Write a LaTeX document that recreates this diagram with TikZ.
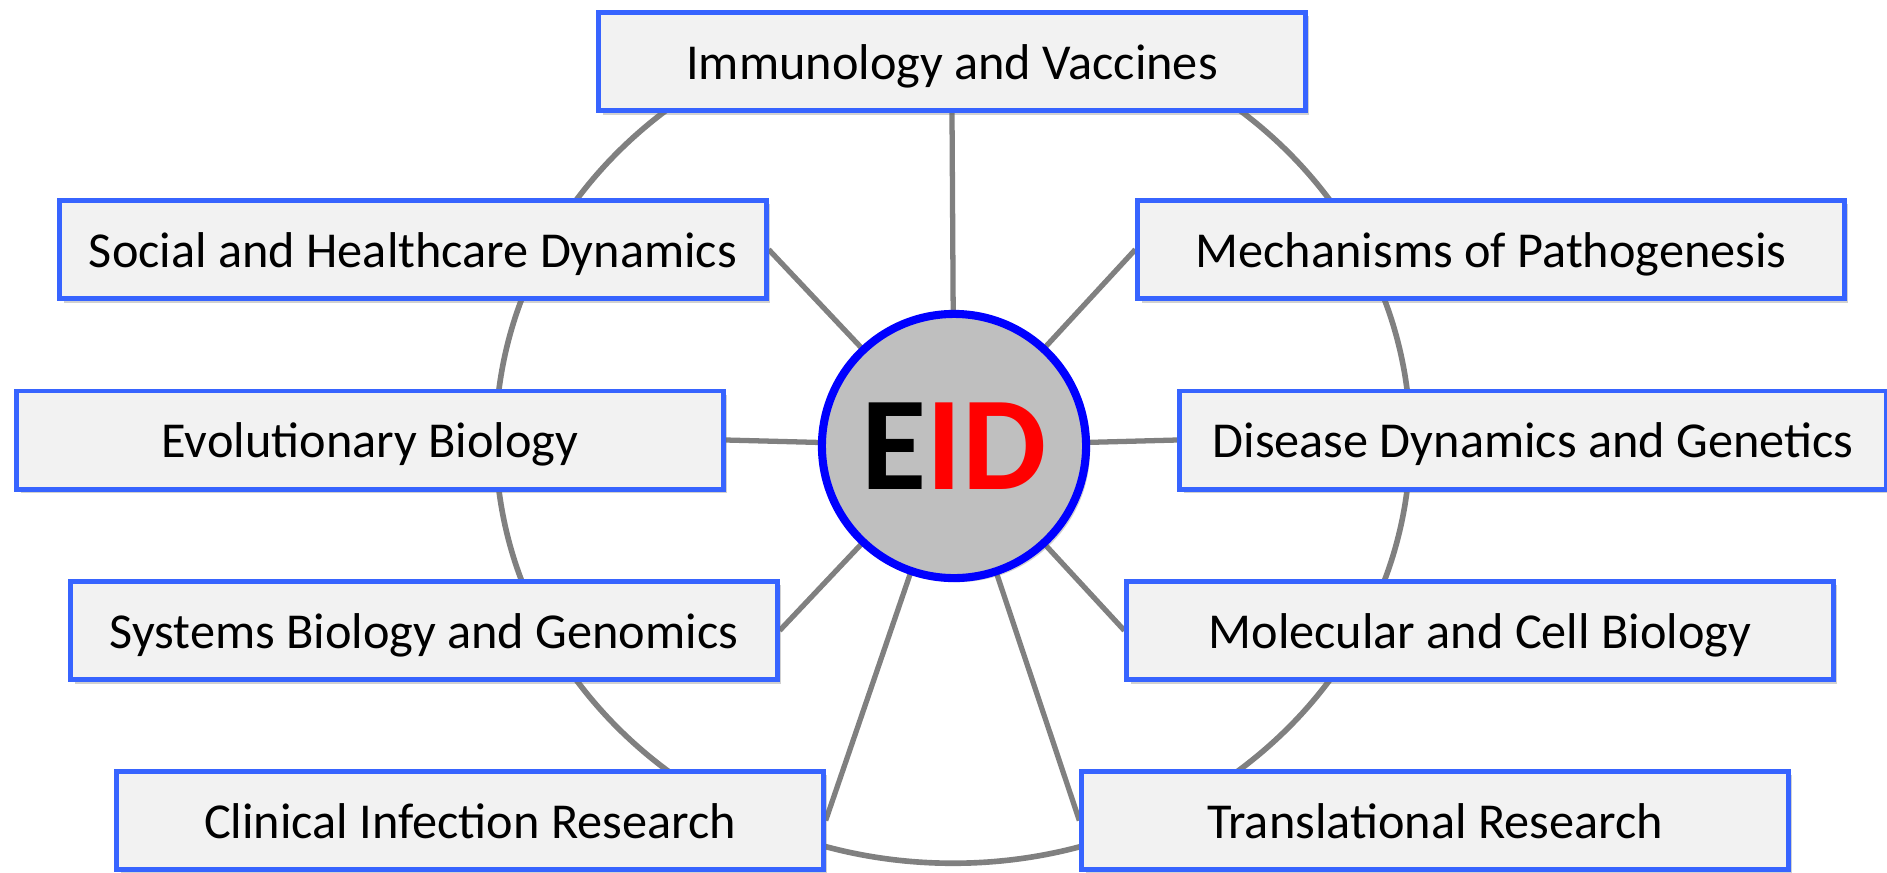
\documentclass[tikz,border=0pt]{standalone}
\usepackage{fontspec}
\setmainfont{Carlito}
\usetikzlibrary{shadows}
\definecolor{boxblue}{RGB}{55,100,255}
\definecolor{boxfill}{RGB}{242,242,242}
\definecolor{ringgray}{RGB}{128,128,128}
\definecolor{eidgray}{RGB}{191,191,191}
\definecolor{eidblue}{RGB}{0,0,255}
\definecolor{eidred}{RGB}{255,0,0}
\pgfdeclarelayer{background}
\pgfsetlayers{background,main}
\begin{document}
\begin{tikzpicture}[x=0.01cm,y=-0.01cm,
  topic/.style={draw=boxblue, line width=1.4pt, fill=boxfill,
    minimum width=7.06cm, minimum height=0.98cm, inner sep=0pt,
    text height=13pt, text depth=2.8pt,
    font=\fontsize{14.3}{17}\selectfont,
    drop shadow={shadow xshift=0.04cm, shadow yshift=-0.04cm, opacity=0.3, fill=black!60}},
  spoke/.style={draw=ringgray, line width=1.5pt},
  ring/.style={draw=ringgray, line width=1.6pt}]
\useasboundingbox (0,0) rectangle (1887,872);

\node[topic] (imm) at (952,61.5) {Immunology and Vaccines};
\node[topic] (soc) at (413,249.5) {Social and Healthcare Dynamics};
\node[topic] (mec) at (1491,249.5) {Mechanisms of Pathogenesis};
\node[topic] (evo) at (370,440) {Evolutionary Biology};
\node[topic] (dis) at (1533,440) {Disease Dynamics and Genetics};
\node[topic] (sys) at (424,630.5) {Systems Biology and Genomics};
\node[topic] (mol) at (1480,630.5) {Molecular and Cell Biology};
\node[topic] (cli) at (470,820.5) {Clinical Infection Research};
\node[topic] (tra) at (1435,820.5) {Translational Research};

\node[circle, draw=eidblue, line width=2.3pt, fill=eidgray, minimum size=2.64cm, inner sep=0pt,
  drop shadow={shadow xshift=0.04cm, shadow yshift=-0.04cm, opacity=0.3, fill=black!60}]
  (eid) at (954,446) {\fontsize{38}{40}\selectfont\bfseries E\textcolor{eidred}{ID}};

\begin{pgfonlayer}{background}
  \draw[ring] (953,440) ellipse [x radius=4.57cm, y radius=4.23cm];
  \draw[spoke] (eid.center) -- (imm.south);
  \draw[spoke] (eid.center) -- (soc.east);
  \draw[spoke] (eid.center) -- (mec.west);
  \draw[spoke] (eid.center) -- (evo.east);
  \draw[spoke] (eid.center) -- (dis.west);
  \draw[spoke] (eid.center) -- (sys.east);
  \draw[spoke] (eid.center) -- (mol.west);
  \draw[spoke] (eid.center) -- (cli.east);
  \draw[spoke] (eid.center) -- (tra.west);
\end{pgfonlayer}
\end{tikzpicture}
\end{document}
